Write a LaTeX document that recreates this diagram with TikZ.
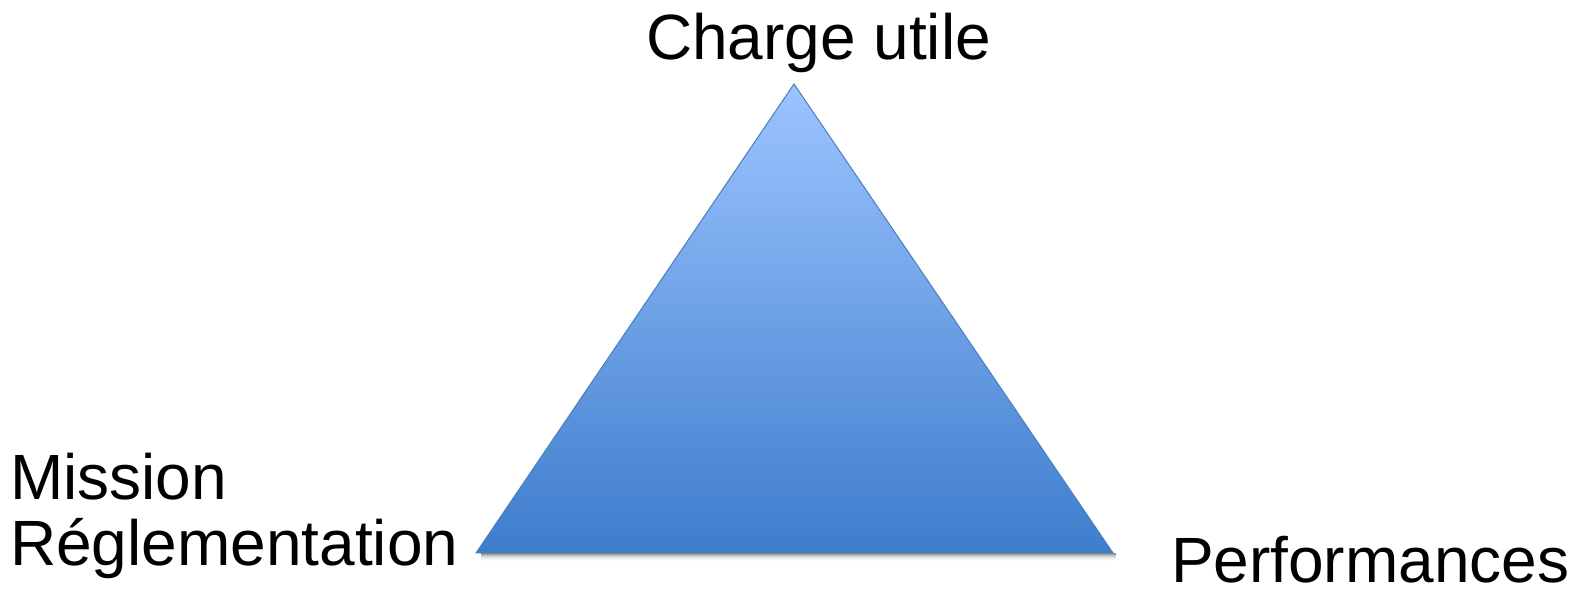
\documentclass[tikz,border=0pt]{standalone}
\usepackage{fontspec}
\setmainfont{Liberation Sans}
\begin{document}
\begin{tikzpicture}[x=1pt,y=1pt,
  lbl/.style={inner sep=0pt,outer sep=0pt,text depth=0pt,font=\fontsize{64}{66}\selectfont}]
\useasboundingbox (0,0) rectangle (1577,589);
\coordinate (top) at (794,505);
\coordinate (bl) at (476,36);
\coordinate (br) at (1113,36);
% shadow under base
\foreach \i/\o in {1/0.16,2/0.13,3/0.10,4/0.075,5/0.05,6/0.03,7/0.018,8/0.01}{
  \fill[black,opacity=\o] ([xshift=5pt]bl) ++(0,-\i) rectangle ([xshift=3pt]br);
}
\path[top color={rgb,255:red,156;green,196;blue,255},bottom color={rgb,255:red,62;green,125;blue,204},
  draw={rgb,255:red,74;green,126;blue,187},line width=1pt]
  (top) -- (br) -- (bl) -- cycle;
\node[lbl,anchor=base west] (charge) at (646,529) {Charge utile};
\node[lbl,anchor=base west] (mission) at (10,89) {Mission};
\node[lbl,anchor=base west] (regl) at (10,23) {Réglementation};
\node[lbl,anchor=base west] (perf) at (1171,6) {Performances};
\end{tikzpicture}
\end{document}
